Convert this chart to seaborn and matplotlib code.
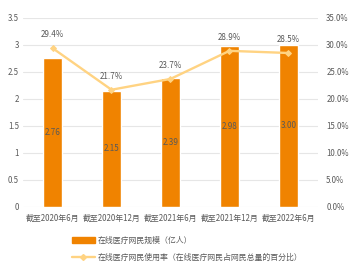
import matplotlib
matplotlib.use("Agg")
import matplotlib.pyplot as plt
import seaborn as sns
import pandas as pd
from matplotlib.ticker import FuncFormatter, MultipleLocator
from matplotlib.lines import Line2D
from matplotlib.patches import Patch

categories = ["截至2020年6月", "截至2020年12月", "截至2021年6月", "截至2021年12月", "截至2022年6月"]
users = [2.76, 2.15, 2.39, 2.98, 3.00]
user_labels = ["2.76", "2.15", "2.39", "2.98", "3.00"]
rate = [29.4, 21.7, 23.7, 28.9, 28.5]
bar_name = "在线医疗网民规模（亿人）"
line_name = "在线医疗网民使用率（在线医疗网民占网民总量的百分比）"

sns.set_theme(style="white")
plt.rcParams['font.family'] = ['Noto Sans CJK SC', 'DejaVu Sans']

BAR = "#F08300"
LINE = "#FFD382"
TXT = "#595959"
GRID = "#E6E6E6"

df = pd.DataFrame({"cat": categories, "users": users, "rate": rate, "x": range(len(categories))})

fig = plt.figure(figsize=(3.6, 2.63), dpi=100)
ax = fig.add_axes([0.064, 0.213, 0.819, 0.719])
sns.barplot(data=df, x="cat", y="users", color=BAR, width=0.31, ax=ax, saturation=1)
ax.set_ylim(0, 3.5)
ax.set_xlim(-0.5, 4.5)
ax.yaxis.set_major_locator(MultipleLocator(0.5))
ax.yaxis.set_major_formatter(FuncFormatter(lambda v, p: f"{v:g}"))
ax.grid(axis="y", color=GRID, linewidth=0.8)
ax.set_axisbelow(True)
for s in ax.spines.values():
    s.set_visible(False)
ax.set_xlabel("")
ax.set_ylabel("")
ax.tick_params(axis="both", labelsize=5.7, colors=TXT, length=0, pad=3)
ax.tick_params(axis="x", pad=5)
for i, (v, lab) in enumerate(zip(users, user_labels)):
    ax.text(i, v / 2, lab, ha="center", va="center", fontsize=5.8, color=TXT)

ax2 = ax.twinx()
sns.lineplot(data=df, x="x", y="rate", color=LINE, linewidth=1.7, marker="D",
             markersize=3, markeredgecolor=LINE, ax=ax2)
ax2.set_ylim(0, 35)
ax2.set_xlim(-0.5, 4.5)
ax2.yaxis.set_major_locator(MultipleLocator(5))
ax2.yaxis.set_major_formatter(FuncFormatter(lambda v, p: f"{v:.1f}%"))
for s in ax2.spines.values():
    s.set_visible(False)
ax2.set_xlabel("")
ax2.set_ylabel("")
ax2.tick_params(axis="y", labelsize=5.7, colors=TXT, length=0, pad=6)
for i, r in enumerate(rate):
    ax2.text(i, r + 1.6, f"{r:.1f}%", ha="center", va="bottom", fontsize=5.8, color=TXT)

handles = [Patch(facecolor=BAR, edgecolor=BAR),
           Line2D([0], [0], color=LINE, linewidth=1.7, marker="D", markersize=3)]
fig.legend(handles, [bar_name, line_name], loc="upper left", bbox_to_anchor=(0.19, 0.118),
           frameon=False, fontsize=5.7, labelcolor=TXT, handlelength=2.8, handleheight=0.7,
           labelspacing=0.95, borderpad=0, handletextpad=0.4)

fig.savefig("out.png", dpi=100)
